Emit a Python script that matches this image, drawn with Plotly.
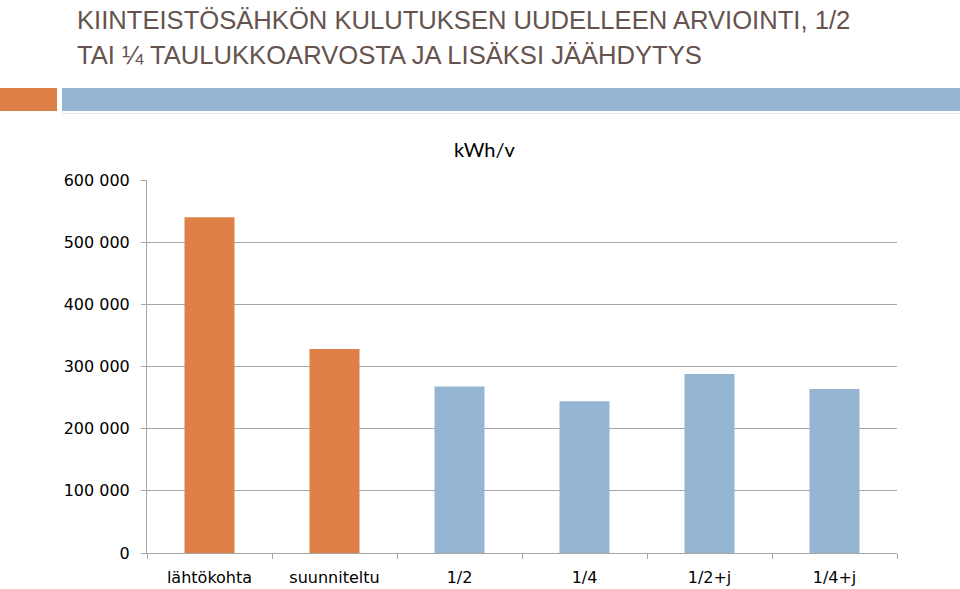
import plotly.graph_objects as go

categories = ["lähtökohta", "suunniteltu", "1/2", "1/4", "1/2+j", "1/4+j"]
values = [540000, 328000, 268000, 244000, 288000, 264000]
bar_colors = ["#DE8047", "#DE8047", "#94B6D2", "#94B6D2", "#94B6D2", "#94B6D2"]
y_tickvals = [0, 100000, 200000, 300000, 400000, 500000, 600000]
y_ticktext = ["0", "100 000", "200 000", "300 000", "400 000", "500 000", "600 000"]
title_lines = ["KIINTEISTÖSÄHKÖN KULUTUKSEN UUDELLEEN ARVIOINTI, 1/2",
               "TAI ¼ TAULUKKOARVOSTA JA LISÄKSI JÄÄHDYTYS"]
unit_label = "kWh/v"

W, H = 960, 589
L, R, T, B = 147, 63, 180, 36
PW, PH = W - L - R, H - T - B

def px(x):
    return (x - L) / PW

def py(y):
    return (H - B - y) / PH

fig = go.Figure(go.Bar(x=categories, y=values, marker=dict(color=bar_colors, line_width=0)))

fig.update_layout(
    width=W, height=H,
    margin=dict(l=L, r=R, t=T, b=B, autoexpand=False),
    paper_bgcolor="white", plot_bgcolor="white",
    bargap=0.6,
    showlegend=False,
    font=dict(family="DejaVu Sans, sans-serif", color="#000000"),
)
fig.update_yaxes(
    range=[0, 600000], tickvals=y_tickvals, ticktext=y_ticktext,
    showgrid=True, gridcolor="#A6A6A6", gridwidth=1,
    showline=True, linecolor="#A6A6A6", linewidth=1,
    ticks="outside", ticklen=5, tickcolor="#A6A6A6",
    tickfont=dict(size=16, family="DejaVu Sans, sans-serif", color="#000"),
    zeroline=False, ticklabelstandoff=8, automargin=False,
)
fig.update_xaxes(
    showline=True, linecolor="#A6A6A6", linewidth=1,
    ticks="outside", ticklen=5, tickcolor="#A6A6A6", tickson="boundaries",
    showgrid=False,
    tickfont=dict(size=16, family="DejaVu Sans, sans-serif", color="#000"),
    ticklabelstandoff=10, automargin=False,
)

# header bars
fig.add_shape(type="rect", xref="paper", yref="paper", x0=px(0), x1=px(57), y0=py(111), y1=py(88),
              fillcolor="#DD8047", line_width=0, layer="below")
fig.add_shape(type="rect", xref="paper", yref="paper", x0=px(62), x1=px(960), y0=py(111), y1=py(88),
              fillcolor="#94B6D2", line_width=0, layer="below")
fig.add_shape(type="line", xref="paper", yref="paper", x0=px(62), x1=px(960), y0=py(113.5), y1=py(113.5),
              line=dict(color="#DCE7F0", width=1))

for i, line in enumerate(title_lines):
    fig.add_annotation(text=line, xref="paper", yref="paper", x=px(75), y=py(4 + 35 * i),
                       xanchor="left", yanchor="top", showarrow=False,
                       font=dict(family="Liberation Sans Narrow, Arial Narrow, sans-serif", size=25.6, color="#65534E"))

fig.add_annotation(text=unit_label, xref="paper", yref="paper", x=px(485), y=py(149),
                   xanchor="center", yanchor="middle", showarrow=False,
                   font=dict(family="Lato, sans-serif", size=20, color="#000"))

fig.write_html("out.html")
